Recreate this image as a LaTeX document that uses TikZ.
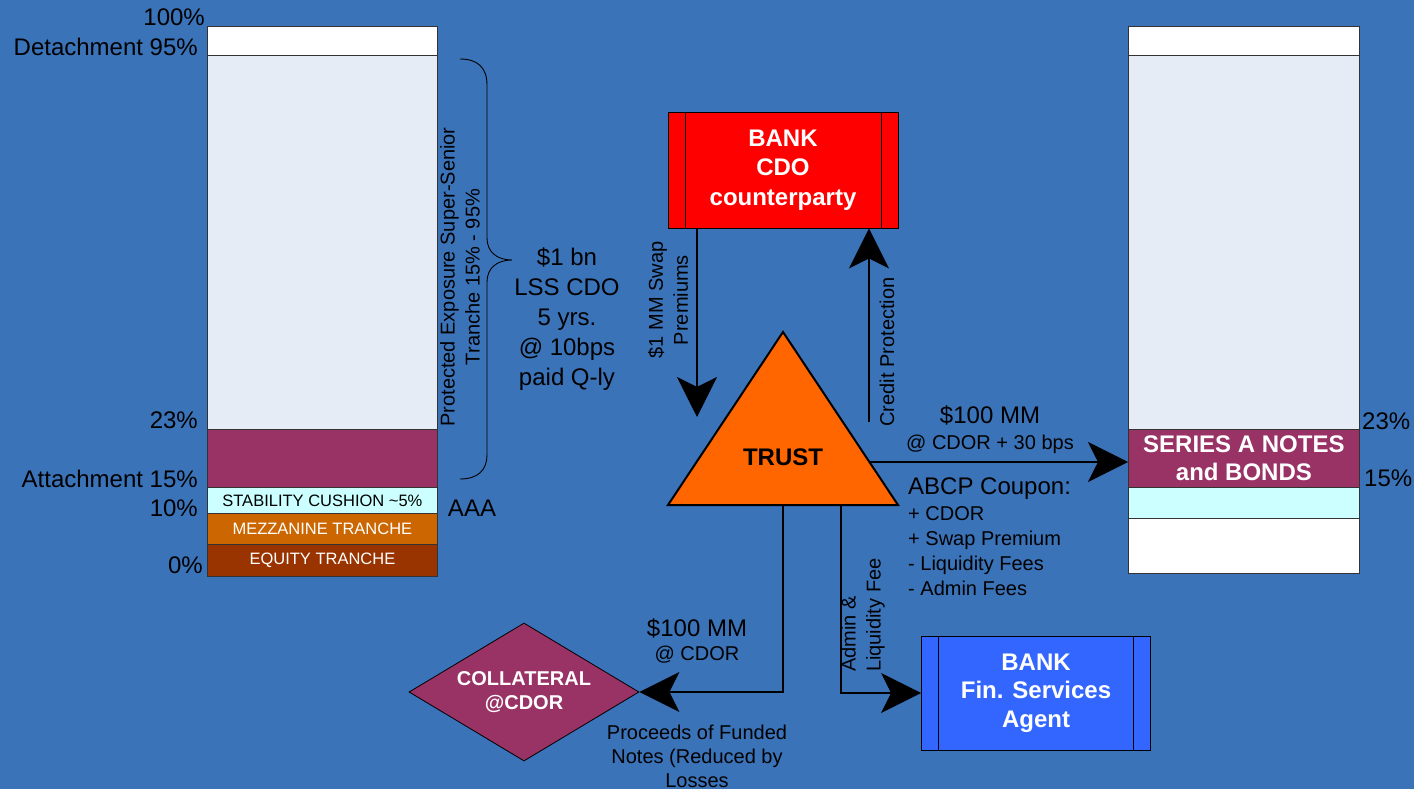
\documentclass[tikz,border=0pt]{standalone}
\usepackage{fontspec}
\setmainfont{Liberation Sans}
\usetikzlibrary{shapes.geometric,arrows.meta}

\definecolor{bgblue}{HTML}{3B73B9}
\definecolor{paleband}{HTML}{E6ECF6}
\definecolor{plum}{HTML}{993366}
\definecolor{cushion}{HTML}{CCFFFF}
\definecolor{mezz}{HTML}{CC6600}
\definecolor{equity}{HTML}{993300}
\definecolor{bankred}{HTML}{FF0000}
\definecolor{trustorange}{HTML}{FF6600}
\definecolor{agentblue}{HTML}{3366FF}

\newcommand\szL{\fontsize{24pt}{29.5pt}\selectfont}
\newcommand\szM{\fontsize{20pt}{25pt}\selectfont}
\newcommand\szS{\fontsize{16.5pt}{19pt}\selectfont}

\tikzset{
  band/.style={draw=black!80, line width=0.8pt, inner sep=0pt, anchor=north west},
  lband/.style={band, minimum width=230pt},
  rband/.style={band, minimum width=231pt},
  lbl/.style={inner sep=0pt, font=\szL},
  sublbl/.style={inner sep=0pt, font=\szM},
  bandtext/.style={font=\szS},
  procbox/.style={draw=black, line width=0.8pt, inner sep=0pt, text=white,
    font=\bfseries\szL, align=center,
    path picture={\draw[line width=0.8pt]
      ([xshift=17pt]path picture bounding box.north west) -- ([xshift=17pt]path picture bounding box.south west)
      ([xshift=-17pt]path picture bounding box.north east) -- ([xshift=-17pt]path picture bounding box.south east);}},
  flow/.style={line width=2pt, line join=miter,
    -{Stealth[length=40pt, width=40pt, inset=10pt]}}
}

\begin{document}
\begin{tikzpicture}[x=1pt, y=-1pt]
  \useasboundingbox (0,0) rectangle (1414,789);
  \fill[bgblue] (0,0) rectangle (1414,789);

  % ---- left tranche stack ----
  \node[lband, fill=white, minimum height=29pt] (lWhite) at (207,26) {};
  \node[lband, fill=paleband, minimum height=374pt] (lPale) at (207,55) {};
  \node[lband, fill=plum, minimum height=58pt] (lPlum) at (207,429) {};
  \node[lband, fill=cushion, minimum height=26pt, bandtext] (lCushion) at (207,487) {STABILITY CUSHION \textasciitilde5\%};
  \node[lband, fill=mezz, minimum height=31pt, bandtext, text=white] (lMezz) at (207,513) {MEZZANINE TRANCHE};
  \node[lband, fill=equity, minimum height=32pt, bandtext, text=white] (lEquity) at (207,544) {EQUITY TRANCHE};

  \node[lbl, anchor=east] (p100) at (205,17) {100\%};
  \node[lbl, anchor=east] (p95) at (198,47) {Detachment 95\%};
  \node[lbl, anchor=east] (p23) at (198,420) {23\%};
  \node[lbl, anchor=east] (p15) at (198,479) {Attachment 15\%};
  \node[lbl, anchor=east] (p10) at (198,508) {10\%};
  \node[lbl, anchor=east] (p0) at (203,565) {0\%};
  \node[lbl] (aaa) at (472,508) {AAA};

  % brace over the protected tranche
  \draw[line width=0.9pt] (460,59) .. controls (478,59) and (487,68) .. (487,85)
    -- (487,238) .. controls (487,252) and (497,260) .. (512,260)
    .. controls (497,260) and (487,268) .. (487,282)
    -- (487,455) .. controls (487,470) and (478,479) .. (460,479);
  \node[sublbl, rotate=90, align=center] (protected) at (460,277)
    {Protected Exposure Super-Senior\\Tranche 15\% - 95\%};
  \node[inner sep=0pt, font=\fontsize{24pt}{30pt}\selectfont, align=center] (deal) at (567,319)
    {\$1 bn\\LSS CDO\\5 yrs.\\@ 10bps\\paid Q-ly};

  % ---- counterparty ----
  \node[procbox, fill=bankred, minimum width=230pt, minimum height=116pt] (cdo) at (783,170)
    {BANK\\CDO\\counterparty};

  % ---- trust ----
  \coordinate (apex) at (783,332);
  \coordinate (baseL) at (668,505);
  \coordinate (baseR) at (898,505);
  \draw[fill=trustorange, line width=2pt, line join=miter] (apex) -- (baseL) -- (baseR) -- cycle;
  \node[font=\bfseries\szL, inner sep=0pt] (trust) at (783,457) {TRUST};

  % swap premiums into the trust
  \coordinate (swapEnd) at (697,417);
  \draw[flow] (cdo.south -| swapEnd) -- (swapEnd);
  \node[sublbl, rotate=90, align=center] (swapLbl) at (668,300) {\$1 MM Swap\\Premiums};

  % credit protection to the counterparty
  \coordinate (protStart) at (869,422);
  \draw[flow] (protStart) -- (protStart |- cdo.south);
  \node[sublbl, rotate=90] (protLbl) at (887,352) {Credit Protection};

  % ---- right note stack ----
  \node[rband, fill=white, minimum height=29pt] (rWhite) at (1128,26) {};
  \node[rband, fill=paleband, minimum height=374pt] (rPale) at (1128,55) {};
  \node[rband, fill=plum, minimum height=58pt, text=white, font=\bfseries\fontsize{24pt}{28pt}\selectfont, align=center] (rSeries) at (1128,429) {SERIES A NOTES\\and BONDS};
  \node[rband, fill=cushion, minimum height=31pt] (rCushion) at (1128,487) {};
  \node[rband, fill=white, minimum height=55pt] (rBase) at (1128,518) {};
  \node[lbl, anchor=west] (r23) at (1362,421) {23\%};
  \node[lbl, anchor=west] (r15) at (1364,478) {15\%};

  % notes issued by the trust
  \coordinate (notesOut) at (869,462);
  \draw[flow] (notesOut) -- (notesOut -| rSeries.west);
  \node[lbl] (notesAmt) at (990,415) {\$100 MM};
  \node[sublbl] (notesRate) at (990,444) {@ CDOR + 30 bps};
  \node[lbl, anchor=west] (abcp) at (908,489) {ABCP Coupon:};
  \node[sublbl, anchor=west, align=left] (abcpTerms) at (908,551)
    {+ CDOR\\+ Swap Premium\\- Liquidity Fees\\- Admin Fees};

  % ---- collateral ----
  \node[shape=diamond, fill=plum, draw=black, line width=0.8pt, inner sep=0pt, aspect=1.67,
        minimum width=230pt, minimum height=138pt, text=white, align=center,
        font=\bfseries\fontsize{20pt}{24pt}\selectfont] (coll) at (524,692) {COLLATERAL\\@CDOR};
  \coordinate (collOut) at (783,505);
  \draw[flow] (collOut) |- (coll.east);
  \node[lbl] (collAmt) at (697,628) {\$100 MM};
  \node[sublbl] (collRate) at (697,655) {@ CDOR};
  \node[inner sep=0pt, font=\fontsize{20pt}{24pt}\selectfont, align=center] (proceeds) at (697,756)
    {Proceeds of Funded\\Notes (Reduced by\\Losses};

  % ---- services agent ----
  \node[procbox, fill=agentblue, minimum width=229pt, minimum height=114pt,
        font=\bfseries\fontsize{24pt}{28.5pt}\selectfont] (agent) at (1036,693)
    {BANK\\Fin. Services\\Agent};
  \coordinate (feeOut) at (841,505);
  \draw[flow] (feeOut) |- (agent.west);
  \node[sublbl, rotate=90, anchor=west, align=left] (feeLbl) at (863,672) {Admin \&\\Liquidity Fee};
\end{tikzpicture}
\end{document}
